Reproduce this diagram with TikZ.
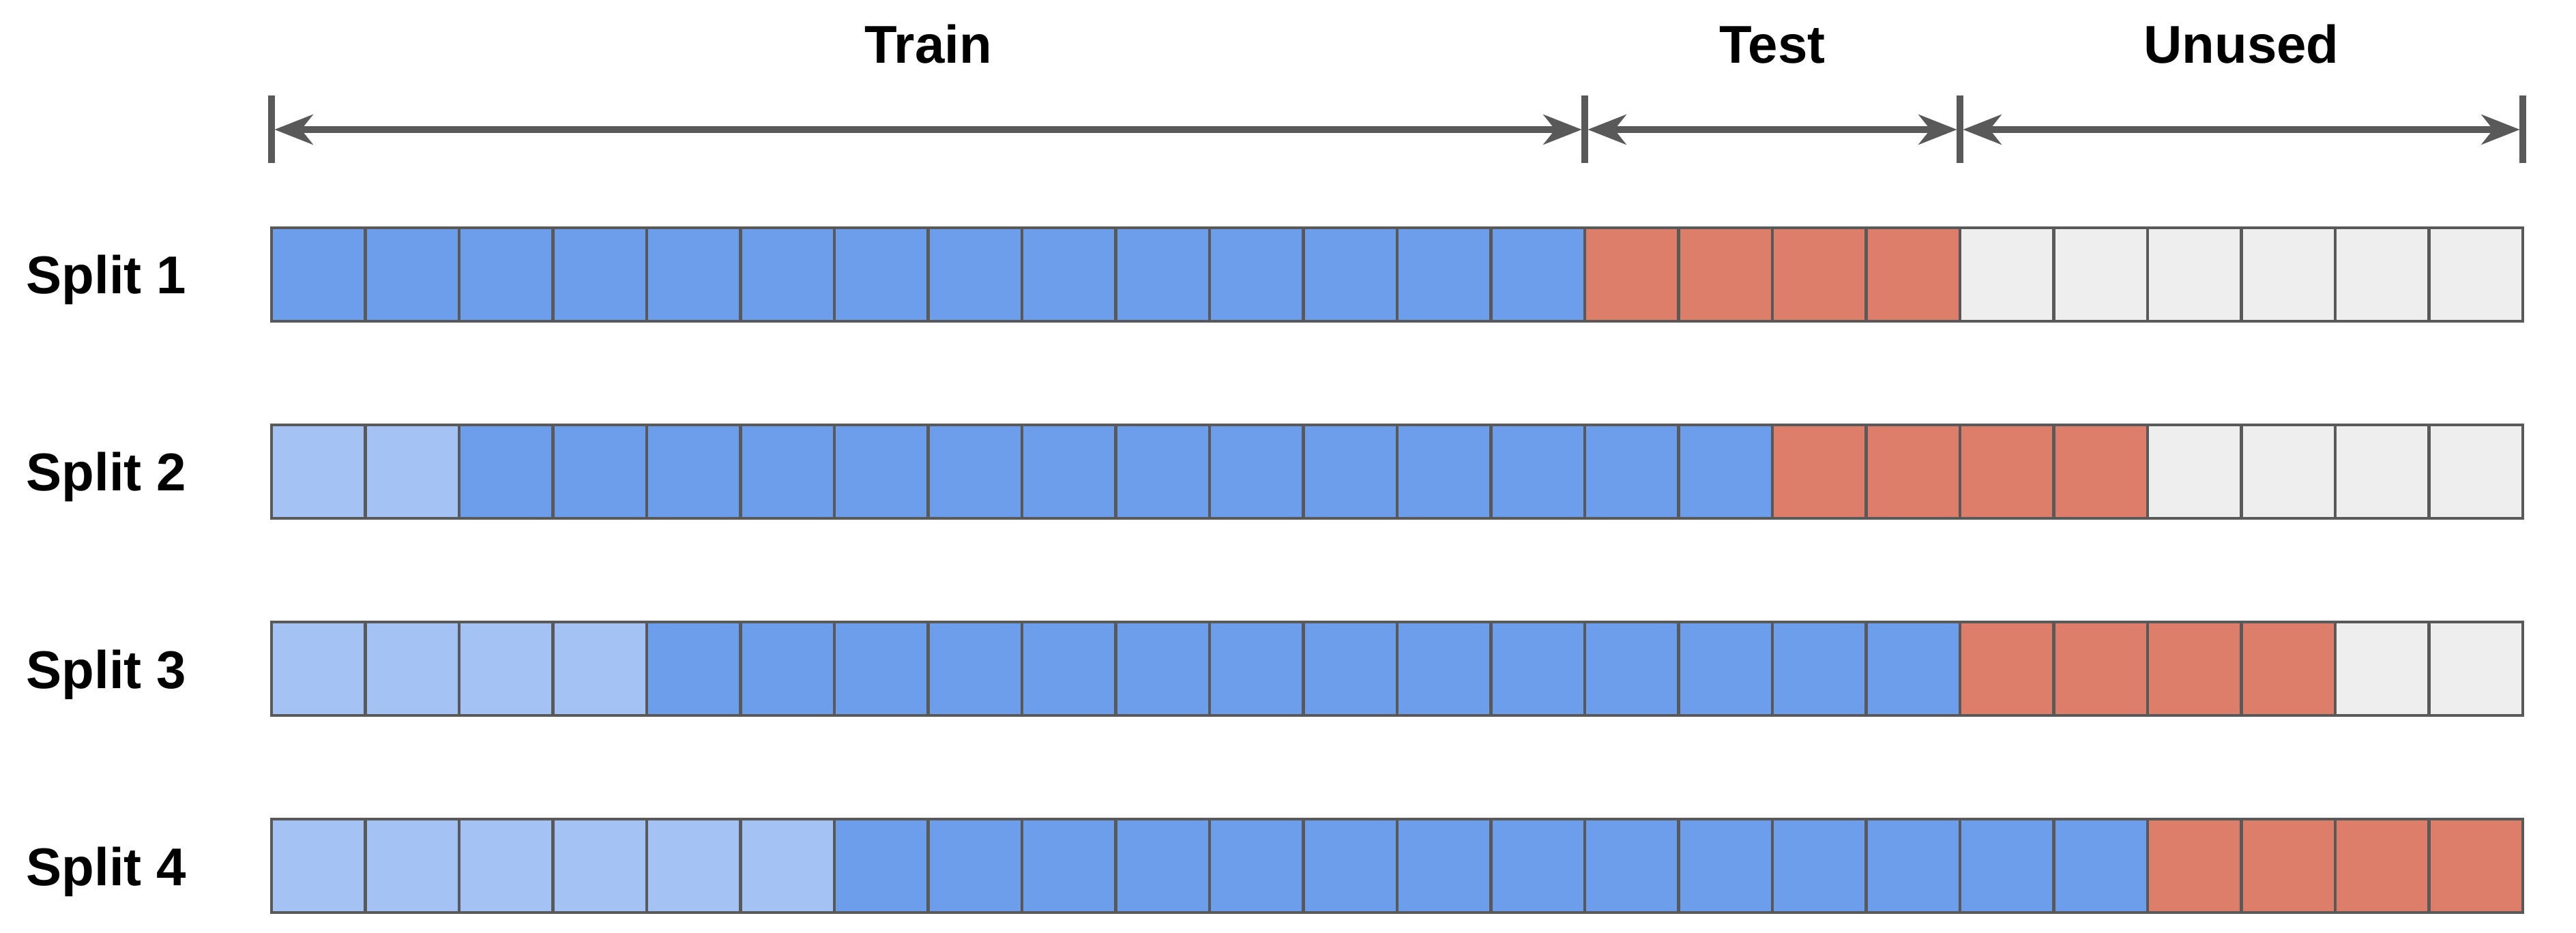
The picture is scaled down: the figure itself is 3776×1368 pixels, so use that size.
\documentclass[tikz,border=0pt]{standalone}
\usepackage{fontspec}
\setmainfont{Liberation Sans}
\usetikzlibrary{arrows.meta}
\definecolor{cblue}{HTML}{6D9EEB}
\definecolor{clight}{HTML}{A4C2F4}
\definecolor{cred}{HTML}{DD7E6B}
\definecolor{cgray}{HTML}{EEEEEE}
\definecolor{cline}{HTML}{595959}
\tikzset{
  cell/.style={draw=cline, line width=0.45mm, minimum width=13.75mm, minimum height=13.7mm, inner sep=0pt, outer sep=0pt},
  lbl/.style={font=\fontsize{22.2pt}{26pt}\selectfont\bfseries, inner sep=0pt, text=black},
  tickline/.style={draw=cline, line width=0.95mm},
  span/.style={draw=cline, line width=1mm,
    {Stealth[length=5.7mm,width=4.5mm,inset=1.8mm,line width=0pt]}-{Stealth[length=5.7mm,width=4.5mm,inset=1.8mm,line width=0pt]},
    shorten <=0.45mm, shorten >=0.45mm}
}
\begin{document}
\begin{tikzpicture}[x=0.1mm,y=-0.1mm]
\useasboundingbox (0,0) rectangle (3776,1368);
% ticks and spans
\coordinate (t0) at (398,190);
\coordinate (t1) at (2323,190);
\coordinate (t2) at (2873,190);
\coordinate (t3) at (3698,190);
\foreach \t in {t0,t1,t2,t3}{
  \draw[tickline] ([yshift=-4.95mm]\t) -- ([yshift=5mm]\t);
}
\draw[span] (t0) -- (t1);
\draw[span] (t1) -- (t2);
\draw[span] (t2) -- (t3);
\node[lbl, anchor=base] (ltrain) at (1360.5,93) {Train};
\node[lbl, anchor=base] (ltest) at (2598,93) {Test};
\node[lbl, anchor=base] (lunused) at (3285.5,93) {Unused};
% rows: light count, blue count, red count, gray count
\foreach \r/\top/\nl/\nb/\nr in {1/334/0/14/4, 2/623/2/14/4, 3/912/4/14/4, 4/1201/6/14/4}{
  \node[lbl, anchor=base west] (s\r) at (38,\top+97) {Split \r};
  \foreach \i in {1,...,24}{
    \pgfmathtruncatemacro{\a}{\nl}
    \pgfmathtruncatemacro{\b}{\nl+\nb}
    \pgfmathtruncatemacro{\c}{\nl+\nb+\nr}
    \ifnum\i>\c \def\fc{cgray}\else
      \ifnum\i>\b \def\fc{cred}\else
        \ifnum\i>\a \def\fc{cblue}\else \def\fc{clight}\fi
      \fi
    \fi
    \node[cell, fill=\fc] (c\r-\i) at ({398+137.5*(\i-0.5)},\top+68.5) {};
  }
}
\end{tikzpicture}
\end{document}
